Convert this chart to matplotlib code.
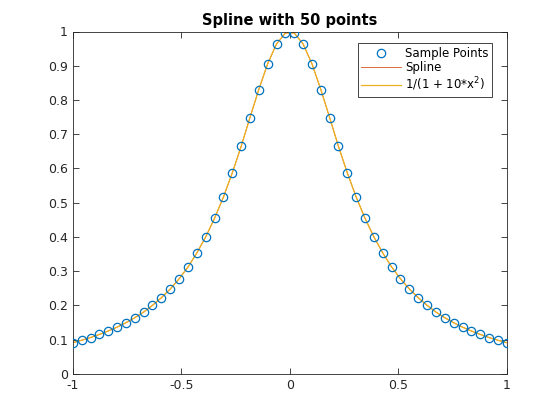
import matplotlib
matplotlib.use("Agg")
import matplotlib.pyplot as plt

x_samples = [-1.000, -0.959, -0.918, -0.878, -0.837, -0.796, -0.755, -0.714, -0.673, -0.633,
             -0.592, -0.551, -0.510, -0.469, -0.429, -0.388, -0.347, -0.306, -0.265, -0.224,
             -0.184, -0.143, -0.102, -0.061, -0.020,
             0.020, 0.061, 0.102, 0.143, 0.184, 0.224, 0.265, 0.306, 0.347, 0.388,
             0.429, 0.469, 0.510, 0.551, 0.592, 0.633, 0.673, 0.714, 0.755, 0.796,
             0.837, 0.878, 0.918, 0.959, 1.000]
y_samples = [0.0909, 0.0980, 0.1060, 0.1149, 0.1250, 0.1363, 0.1492, 0.1639, 0.1806, 0.1999,
             0.2221, 0.2478, 0.2775, 0.3122, 0.3525, 0.3994, 0.4538, 0.5162, 0.5869, 0.6649,
             0.7477, 0.8305, 0.9057, 0.9639, 0.9959,
             0.9959, 0.9639, 0.9057, 0.8305, 0.7477, 0.6649, 0.5869, 0.5162, 0.4538, 0.3994,
             0.3525, 0.3122, 0.2775, 0.2478, 0.2221, 0.1999, 0.1806, 0.1639, 0.1492, 0.1363,
             0.1250, 0.1149, 0.1060, 0.0980, 0.0909]

title = "Spline with 50 points"
labels = ["Sample Points", "Spline", "1/(1 + 10*x$^2$)"]
xticks = [-1, -0.5, 0, 0.5, 1]
xticklabels = ["-1", "-0.5", "0", "0.5", "1"]
yticks = [0, 0.1, 0.2, 0.3, 0.4, 0.5, 0.6, 0.7, 0.8, 0.9, 1]
yticklabels = ["0", "0.1", "0.2", "0.3", "0.4", "0.5", "0.6", "0.7", "0.8", "0.9", "1"]

plt.rcParams["font.family"] = ["DejaVu Sans"]
fig = plt.figure(figsize=(5.6, 4.2), dpi=100)
ax = fig.add_axes([0.13, 0.11, 0.775, 0.815])

ax.plot(x_samples, y_samples, "o", mfc="none", mec="#0072BD", ms=6, mew=0.9,
        label=labels[0], zorder=3)
ax.plot(x_samples, y_samples, "-", color="#D95319", lw=0.6, label=labels[1], zorder=2)
ax.plot(x_samples, y_samples, "-", color="#EDB120", lw=0.9, label=labels[2], zorder=2.5)

ax.set_xlim(-1, 1)
ax.set_ylim(0, 1)
ax.set_xticks(xticks)
ax.set_xticklabels(xticklabels)
ax.set_yticks(yticks)
ax.set_yticklabels(yticklabels)
ax.tick_params(direction="in", top=True, right=True, labelsize=9, length=4, width=0.6,
               colors="#262626")
for s in ax.spines.values():
    s.set_linewidth(0.6)
    s.set_color("#262626")
ax.set_title(title, fontsize=10.5, fontweight="bold", pad=5)

leg = ax.legend(loc="upper right", bbox_to_anchor=(0.9655, 0.965), fontsize=8.5,
                fancybox=False, framealpha=1, edgecolor="#262626", handlelength=3.4,
                borderpad=0.3, labelspacing=0.1, handletextpad=0.3, borderaxespad=0)
leg.get_frame().set_linewidth(0.6)

fig.savefig("out.png", dpi=100)
